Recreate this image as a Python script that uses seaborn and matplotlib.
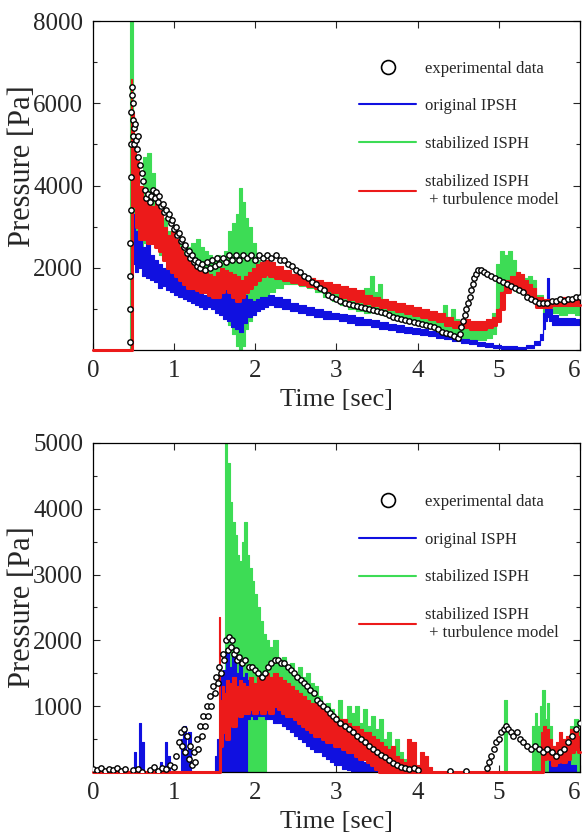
import numpy as np
import matplotlib
matplotlib.use("Agg")
import matplotlib.pyplot as plt
from matplotlib.lines import Line2D
from matplotlib.ticker import MultipleLocator
import seaborn as sns

## ---------- top panel data (Pa) ----------
top_blue_t = [0.0, 0.46, 0.47, 0.50, 0.54, 0.58, 0.63, 0.68, 0.73, 0.78, 0.83, 0.88, 0.93, 0.98, 1.03, 1.08,
              1.13, 1.18, 1.23, 1.28, 1.33, 1.38, 1.43, 1.48, 1.53, 1.58, 1.63, 1.68, 1.73, 1.78, 1.83, 1.88,
              1.93, 1.98, 2.03, 2.08, 2.13, 2.18, 2.28, 2.38, 2.48, 2.58, 2.68, 2.78, 2.88, 2.98, 3.08, 3.18,
              3.28, 3.38, 3.48, 3.58, 3.68, 3.78, 3.88, 3.98, 4.08, 4.18, 4.28, 4.38, 4.48, 4.58, 4.68, 4.78,
              4.88, 4.98, 5.08, 5.18, 5.28, 5.38, 5.48, 5.53, 5.56, 5.58, 5.60, 5.63, 5.68, 5.78, 5.88, 6.0]
top_blue_lo = [0, 0, 0, 2100, 1900, 2000, 1800, 1750, 1700, 1650, 1500, 1550, 1450, 1400, 1350, 1300,
               1250, 1200, 1150, 1100, 1050, 1000, 1050, 1000, 900, 850, 750, 700, 550, 500, 450, 650,
               800, 850, 950, 1000, 1050, 1100, 1050, 1000, 950, 900, 850, 800, 750, 750, 700, 650,
               620, 600, 560, 520, 480, 440, 420, 400, 370, 330, 300, 260, 220, 170, 140, 110,
               80, 50, 30, 20, 20, 40, 120, 250, 500, 700, 800, 700, 600, 600, 620, 620]
top_blue_hi = [0, 0, 3400, 3300, 2900, 2700, 2500, 2600, 2300, 2200, 2100, 2000, 1950, 1900, 1800, 1750,
               1700, 1650, 1550, 1500, 1400, 1350, 1300, 1450, 1600, 1700, 1650, 1500, 1600, 1450, 1300, 1350,
               1250, 1200, 1250, 1300, 1300, 1350, 1300, 1250, 1150, 1100, 1050, 1000, 950, 900, 880, 850,
               800, 760, 720, 680, 640, 600, 560, 540, 500, 460, 420, 380, 330, 280, 240, 200,
               170, 130, 110, 90, 80, 120, 220, 400, 900, 1100, 1750, 1000, 850, 780, 780, 760]

top_green_t = [0.0, 0.46, 0.465, 0.48, 0.51, 0.55, 0.59, 0.64, 0.69, 0.74, 0.79, 0.84, 0.89, 0.94, 0.99, 1.04,
               1.09, 1.14, 1.19, 1.24, 1.29, 1.34, 1.39, 1.44, 1.49, 1.54, 1.59, 1.64, 1.69, 1.74, 1.79, 1.82,
               1.86, 1.89, 1.94, 1.99, 2.04, 2.09, 2.14, 2.19, 2.29, 2.39, 2.49, 2.59, 2.69, 2.79, 2.89, 2.99,
               3.09, 3.19, 3.29, 3.39, 3.44, 3.49, 3.54, 3.59, 3.69, 3.79, 3.89, 3.99, 4.09, 4.19, 4.29, 4.34,
               4.39, 4.44, 4.49, 4.54, 4.59, 4.69, 4.79, 4.89, 4.94, 4.99, 5.04, 5.09, 5.14, 5.19, 5.24, 5.29,
               5.34, 5.39, 5.44, 5.49, 5.59, 5.69, 5.79, 5.89, 6.0]
top_green_lo = [0, 0, 0, 3000, 3200, 2800, 2500, 2600, 2700, 2800, 2500, 2300, 2200, 2000, 1900, 1900,
                1800, 1800, 1700, 1700, 1800, 1700, 1600, 1600, 1500, 1500, 1400, 1200, 600, 400, 100, 0,
                100, 500, 700, 900, 1100, 1200, 1300, 1400, 1500, 1600, 1600, 1550, 1500, 1400, 1300, 1200,
                1100, 1000, 950, 900, 950, 900, 900, 850, 800, 750, 700, 650, 600, 550, 500, 500,
                450, 400, 350, 300, 300, 250, 250, 300, 400, 900, 1200, 1400, 1500, 1500, 1400, 1500,
                1400, 1300, 1200, 1100, 900, 900, 850, 900, 850]
top_green_hi = [0, 0, 8000, 8000, 5000, 4500, 4000, 4700, 4800, 4300, 3600, 3400, 3200, 2900, 2700, 2500,
                2600, 2400, 2500, 2600, 2700, 2500, 2400, 2300, 2200, 2300, 2200, 2400, 2900, 3100, 3300, 3950,
                3600, 3200, 3000, 2600, 2200, 2000, 1900, 1900, 1900, 1900, 1850, 1800, 1750, 1650, 1550, 1450,
                1350, 1300, 1250, 1500, 1800, 1400, 1600, 1200, 1100, 1000, 950, 900, 850, 800, 750, 1100,
                800, 1000, 750, 700, 650, 600, 550, 600, 900, 2100, 2400, 2300, 2400, 2200, 1900, 1800,
                1750, 1800, 1700, 1350, 1100, 1150, 1100, 1150, 1100]

top_red_t = [0.0, 0.46, 0.47, 0.49, 0.52, 0.55, 0.59, 0.64, 0.69, 0.74, 0.79, 0.84, 0.89, 0.94, 0.99, 1.04,
             1.09, 1.14, 1.19, 1.24, 1.29, 1.34, 1.39, 1.44, 1.49, 1.54, 1.59, 1.64, 1.69, 1.74, 1.79, 1.84,
             1.89, 1.94, 1.99, 2.04, 2.09, 2.14, 2.19, 2.29, 2.39, 2.49, 2.59, 2.69, 2.79, 2.89, 2.99, 3.09,
             3.19, 3.29, 3.39, 3.49, 3.59, 3.69, 3.79, 3.89, 3.99, 4.09, 4.19, 4.29, 4.39, 4.49, 4.59, 4.69,
             4.79, 4.89, 4.94, 4.99, 5.04, 5.09, 5.19, 5.24, 5.29, 5.34, 5.39, 5.44, 5.49, 5.59, 5.69, 5.79,
             5.89, 6.0]
top_red_lo = [0, 0, 0, 4000, 3500, 3000, 2700, 2700, 2600, 2600, 2500, 2400, 2200, 2000, 1900, 1800,
              1700, 1600, 1500, 1500, 1450, 1400, 1400, 1350, 1300, 1300, 1400, 1500, 1400, 1300, 1200, 1300,
              1400, 1500, 1600, 1700, 1800, 1850, 1800, 1750, 1700, 1650, 1600, 1550, 1500, 1450, 1400, 1300,
              1250, 1200, 1150, 1100, 1050, 1000, 950, 900, 850, 800, 750, 700, 600, 550, 550, 500,
              500, 550, 600, 700, 1000, 1400, 1500, 1550, 1500, 1400, 1350, 1200, 1050, 1050, 1100, 1100,
              1100, 1100]
top_red_hi = [0, 0, 6600, 5800, 5100, 4600, 4000, 3700, 3600, 3500, 3600, 3400, 3000, 2800, 2900, 2700,
              2500, 2300, 2200, 2100, 2050, 2000, 1900, 1850, 1800, 1900, 2000, 1950, 1900, 1850, 1800, 1700,
              1800, 1900, 2000, 2100, 2150, 2200, 2150, 2050, 1950, 1850, 1800, 1750, 1700, 1650, 1600, 1550,
              1500, 1450, 1350, 1300, 1250, 1200, 1150, 1100, 1050, 1000, 950, 900, 800, 700, 750, 700,
              700, 750, 800, 1000, 1400, 1700, 1800, 1900, 1850, 1700, 1600, 1500, 1300, 1250, 1250, 1300,
              1300, 1300]

top_exp_t = [0.46, 0.46, 0.46, 0.46, 0.465, 0.47, 0.47, 0.475, 0.48, 0.485, 0.49, 0.495, 0.50, 0.505, 0.51,
             0.52, 0.53, 0.54, 0.55, 0.56, 0.58, 0.60, 0.62, 0.64, 0.66, 0.68, 0.70, 0.72, 0.74, 0.76, 0.78,
             0.80, 0.82, 0.84, 0.86, 0.88, 0.90, 0.92, 0.94, 0.96, 0.98, 1.00, 1.02, 1.04, 1.06, 1.08, 1.10,
             1.12, 1.14, 1.16, 1.18, 1.20, 1.22, 1.24, 1.26, 1.28, 1.30, 1.32, 1.35, 1.38, 1.41, 1.44, 1.47,
             1.50, 1.53, 1.56, 1.60, 1.64, 1.68, 1.72, 1.76, 1.80, 1.85, 1.90, 1.95, 2.00, 2.05, 2.10, 2.15,
             2.20, 2.25, 2.30, 2.35, 2.40, 2.45, 2.50, 2.55, 2.60, 2.65, 2.70, 2.75, 2.80, 2.85, 2.90, 2.95,
             3.00, 3.05, 3.10, 3.15, 3.20, 3.25, 3.30, 3.35, 3.40, 3.45, 3.50, 3.55, 3.60, 3.65, 3.70, 3.75,
             3.80, 3.85, 3.90, 3.95, 4.00, 4.05, 4.10, 4.15, 4.20, 4.25, 4.30, 4.35, 4.40, 4.45,
             4.50, 4.52, 4.54, 4.56, 4.58, 4.60, 4.62, 4.64, 4.66, 4.68, 4.70, 4.72, 4.75, 4.78, 4.82, 4.86,
             4.90, 4.95, 5.00, 5.05, 5.10, 5.15, 5.20, 5.25, 5.30, 5.35, 5.40, 5.45, 5.50, 5.55, 5.60, 5.65,
             5.70, 5.75, 5.80, 5.85, 5.90, 5.95, 6.00]
top_exp_p = [200, 1000, 1800, 2600, 3400, 4200, 5000, 5800, 6400, 6200, 5600, 5200, 6000, 5400, 5000,
             5500, 5100, 4900, 5200, 4700, 4500, 4300, 4100, 3900, 3700, 3800, 3600, 3750, 3900, 3700, 3850,
             3600, 3750, 3500, 3550, 3350, 3400, 3200, 3300, 3100, 3150, 2950, 3000, 2800, 2850, 2650, 2700,
             2500, 2550, 2350, 2400, 2250, 2300, 2150, 2200, 2050, 2150, 2000, 2100, 1950, 2150, 2000, 2200,
             2050, 2250, 2100, 2250, 2150, 2300, 2200, 2300, 2200, 2300, 2250, 2300, 2200, 2300, 2250, 2300,
             2250, 2300, 2200, 2200, 2100, 2050, 1950, 1900, 1800, 1750, 1650, 1600, 1500, 1450, 1350, 1300,
             1250, 1200, 1150, 1120, 1100, 1080, 1050, 1030, 1000, 980, 950, 920, 900, 850, 800, 780,
             750, 730, 700, 680, 650, 630, 600, 580, 550, 500, 450, 420, 400, 350,
             300, 400, 550, 700, 850, 1000, 1150, 1300, 1450, 1600, 1750, 1850, 1950, 1950, 1900, 1850,
             1800, 1750, 1700, 1650, 1600, 1550, 1500, 1450, 1400, 1300, 1250, 1200, 1150, 1150, 1150, 1200,
             1200, 1250, 1200, 1250, 1250, 1300, 1300]

## ---------- bottom panel data (Pa) ----------
bot_blue_t = [0.0, 0.50, 0.52, 0.55, 0.58, 0.61, 0.64, 0.82, 0.84, 0.87, 0.90, 0.93, 0.96, 1.08, 1.10, 1.13,
              1.16, 1.19, 1.22, 1.50, 1.52, 1.55, 1.58, 1.62, 1.66, 1.70, 1.74, 1.78, 1.82, 1.86, 1.89, 1.91,
              1.95, 2.00, 2.05, 2.10, 2.15, 2.20, 2.25, 2.30, 2.35, 2.40, 2.45, 2.50, 2.55, 2.60, 2.65, 2.70,
              2.75, 2.80, 2.85, 2.90, 2.95, 3.00, 3.05, 3.10, 3.15, 3.20, 3.25, 3.30, 3.35, 3.40, 3.45, 3.50,
              3.55, 5.60, 5.65, 5.70, 5.75, 5.80, 5.85, 5.90, 6.00]
bot_blue_lo = [0, 0, 0, 0, 0, 0, 0, 0, 0, 0, 0, 0, 0, 0, 0, 0,
               0, 0, 0, 0, 0, 0, 0, 0, 0, 0, 0, 0, 0, 0, 0, 800,
               850, 800, 850, 850, 800, 800, 750, 750, 700, 650, 600, 550, 500, 450, 400, 350,
               300, 300, 250, 200, 150, 100, 100, 50, 30, 0, 0, 0, 0, 0, 0, 0,
               0, 0, 0, 0, 0, 0, 0, 0, 0]
bot_blue_hi = [0, 0, 300, 0, 750, 450, 0, 0, 150, 0, 450, 250, 0, 0, 500, 700,
               300, 600, 0, 0, 250, 500, 1500, 1550, 1850, 1600, 1800, 1500, 1650, 1450, 1500, 1400,
               1300, 1250, 1300, 1200, 1150, 1200, 1150, 1100, 1050, 1050, 1000, 1000, 950, 900, 850, 800,
               750, 700, 650, 600, 550, 500, 450, 400, 350, 300, 250, 200, 150, 120, 80, 50,
               0, 0, 300, 100, 200, 150, 250, 100, 0]

bot_green_t = [0.0, 1.62, 1.64, 1.67, 1.70, 1.73, 1.76, 1.79, 1.82, 1.85, 1.88, 1.91, 1.94, 1.97, 2.00, 2.04,
               2.08, 2.12, 2.15, 2.20, 2.25, 2.30, 2.35, 2.40, 2.45, 2.50, 2.55, 2.60, 2.65, 2.70, 2.75, 2.80,
               2.85, 2.90, 2.95, 3.00, 3.05, 3.10, 3.15, 3.20, 3.25, 3.30, 3.35, 3.40, 3.45, 3.50, 3.55, 3.60,
               3.65, 3.70, 3.75, 3.80, 3.85, 3.90, 4.00, 5.05, 5.08, 5.12, 5.40, 5.43, 5.46, 5.49, 5.52, 5.55,
               5.58, 5.61, 5.64, 5.68, 5.75, 5.80, 5.85, 5.90, 5.95, 6.00]
bot_green_lo = [0, 0, 1500, 1500, 1400, 1300, 1200, 1000, 900, 800, 700, 0, 0, 0, 0, 0,
                0, 0, 1000, 1000, 1100, 1100, 1100, 1000, 1000, 900, 900, 800, 800, 700, 700, 600,
                550, 500, 450, 400, 400, 350, 300, 300, 250, 250, 200, 200, 150, 150, 100, 80,
                50, 30, 20, 10, 0, 0, 0, 0, 0, 0, 0, 0, 0, 0, 0, 0,
                0, 0, 0, 0, 0, 0, 0, 0, 0, 0]
bot_green_hi = [0, 0, 5000, 4700, 4100, 3800, 3600, 3300, 3200, 3500, 3800, 3300, 3100, 2900, 2700, 2500,
                2300, 2100, 2000, 1900, 2000, 1700, 1750, 1600, 1650, 1500, 1600, 1450, 1500, 1350, 1300, 1150,
                1000, 1050, 950, 850, 1100, 800, 1000, 900, 1000, 750, 950, 700, 850, 650, 800, 500,
                600, 400, 500, 300, 200, 100, 0, 0, 1100, 0, 0, 700, 900, 700, 1000, 1250,
                800, 1050, 700, 400, 300, 500, 400, 700, 800, 600]

bot_red_t = [0.0, 1.54, 1.56, 1.58, 1.60, 1.63, 1.66, 1.70, 1.74, 1.78, 1.82, 1.86, 1.90, 1.95, 2.00, 2.05,
             2.10, 2.15, 2.20, 2.25, 2.30, 2.35, 2.40, 2.45, 2.50, 2.55, 2.60, 2.65, 2.70, 2.75, 2.80, 2.85,
             2.90, 2.95, 3.00, 3.05, 3.10, 3.15, 3.20, 3.25, 3.30, 3.35, 3.40, 3.45, 3.50, 3.55, 3.60, 3.65,
             3.70, 3.75, 3.80, 3.85, 3.90, 3.95, 4.00, 4.05, 4.10, 4.15, 4.20, 5.50, 5.53, 5.56, 5.60, 5.64,
             5.68, 5.72, 5.76, 5.80, 5.85, 5.90, 5.95, 6.00]
bot_red_lo = [0, 0, 0, 400, 600, 700, 500, 800, 700, 900, 850, 900, 900, 950, 900, 950,
              900, 950, 900, 1000, 950, 900, 850, 850, 800, 750, 700, 650, 600, 550, 550, 500,
              450, 450, 400, 400, 350, 300, 300, 250, 200, 200, 150, 100, 50, 0, 0, 0,
              0, 0, 0, 0, 0, 0, 0, 0, 0, 0, 0, 0, 0, 200, 300, 200,
              100, 150, 200, 150, 200, 300, 350, 300]
bot_red_hi = [0, 0, 2350, 1100, 1300, 1200, 1400, 1350, 1450, 1300, 1400, 1350, 1300, 1450, 1350, 1450,
              1400, 1500, 1450, 1500, 1450, 1400, 1350, 1300, 1250, 1200, 1150, 1100, 1050, 1050, 1000, 950,
              900, 850, 850, 800, 800, 750, 700, 700, 650, 600, 600, 550, 500, 450, 400, 350,
              400, 250, 200, 150, 500, 450, 100, 300, 250, 80, 0, 0, 600, 700, 650, 500,
              400, 450, 600, 500, 550, 650, 600, 550]

bot_exp_t = [0.00, 0.05, 0.10, 0.15, 0.20, 0.25, 0.30, 0.35, 0.40, 0.50, 0.55, 0.60, 0.70, 0.75, 0.80, 0.85,
             0.90, 0.95, 1.00, 1.03, 1.06, 1.08, 1.10, 1.12, 1.14, 1.16, 1.18, 1.20, 1.22, 1.24, 1.26, 1.28,
             1.30, 1.32, 1.34, 1.36, 1.38, 1.40, 1.42, 1.44, 1.46, 1.48, 1.50, 1.52, 1.54, 1.56, 1.58, 1.60,
             1.62, 1.64, 1.66, 1.68, 1.70, 1.72, 1.74, 1.76, 1.78, 1.80, 1.84, 1.88, 1.92, 1.96, 2.00, 2.04,
             2.08, 2.12, 2.16, 2.20, 2.24, 2.28, 2.32, 2.36, 2.40, 2.44, 2.48, 2.52, 2.56, 2.60, 2.64, 2.68,
             2.72, 2.76, 2.80, 2.84, 2.88, 2.92, 2.96, 3.00, 3.05, 3.10, 3.15, 3.20, 3.25, 3.30, 3.35, 3.40,
             3.45, 3.50, 3.55, 3.60, 3.65, 3.70, 3.75, 3.80, 3.85, 3.90, 3.95, 4.00, 4.40, 4.60, 4.85, 4.88,
             4.91, 4.94, 4.97, 5.00, 5.03, 5.06, 5.09, 5.12, 5.15, 5.18, 5.22, 5.26, 5.30, 5.35, 5.40, 5.45,
             5.50, 5.55, 5.60, 5.65, 5.70, 5.75, 5.80, 5.85, 5.90, 5.95, 6.00]
bot_exp_p = [50, 30, 60, 20, 50, 30, 60, 20, 40, 30, 50, 0, 30, 80, 20, 60,
             40, 100, 80, 250, 450, 600, 400, 650, 300, 550, 200, 400, 100, 300, 150, 500,
             350, 700, 550, 850, 700, 1000, 850, 1150, 1000, 1300, 1200, 1450, 1350, 1600, 1500, 1800,
             1700, 2000, 1850, 2050, 1900, 2000, 1800, 1850, 1700, 1750, 1650, 1700, 1600, 1600, 1550, 1500,
             1450, 1500, 1600, 1650, 1700, 1700, 1650, 1650, 1600, 1550, 1500, 1450, 1400, 1350, 1300, 1250,
             1200, 1100, 1050, 1000, 950, 900, 850, 800, 750, 700, 650, 600, 550, 500, 450, 400,
             350, 300, 260, 220, 180, 140, 100, 80, 60, 40, 60, 30, 20, 20, 60, 150,
             250, 350, 450, 500, 600, 650, 700, 650, 600, 550, 600, 500, 450, 400, 350, 400,
             350, 300, 350, 300, 250, 300, 350, 450, 550, 650, 750]

BLUE = "#1010e0"
GREEN = "#3ddc55"
RED = "#ec1a1a"

sns.set_theme(style="ticks")
plt.rcParams["font.family"] = ["Liberation Serif", "DejaVu Serif"]

fig = plt.figure(figsize=(5.84, 8.38), dpi=100)
ax_top = fig.add_axes([0.159, 0.5823, 0.834, 0.3926])
ax_bot = fig.add_axes([0.159, 0.0788, 0.834, 0.3926])


def band(ax, t, lo, hi, color):
    ax.fill_between(t, lo, hi, step="mid", color=color, linewidth=0.8, edgecolor=color)


def draw_panel(ax, blue, green, red, exp_t, exp_p, ymax, major, minor, label_y):
    band(ax, *green, GREEN)
    band(ax, *blue, BLUE)
    band(ax, *red, RED)
    # red trace sitting on the zero line
    ax.plot(red[0], red[1], color=RED, lw=2.2, drawstyle="steps-mid", clip_on=False, zorder=3)
    sns.scatterplot(x=exp_t, y=exp_p, ax=ax, marker="o", s=15, color="white",
                    edgecolor="black", linewidth=1.0, zorder=5, legend=False)

    ax.set_xlim(0, 6)
    ax.set_ylim(0, ymax)
    ax.set_xticks(range(0, 7))
    ax.set_yticks(np.arange(major, ymax + 1, major))
    ax.yaxis.set_minor_locator(MultipleLocator(minor))
    ax.tick_params(which="both", direction="in", top=True, right=True, width=0.8)
    ax.tick_params(which="major", length=5, labelsize=18, pad=7)
    ax.tick_params(which="minor", length=3)
    ax.get_xticklabels()[-1].set_horizontalalignment("right")
    for s in ax.spines.values():
        s.set_linewidth(0.9)
        s.set_color("black")
    ax.set_xlabel("Time [sec]", fontsize=19, labelpad=5)
    ax.set_ylabel("Pressure [Pa]", fontsize=22)
    ax.yaxis.set_label_coords(-0.115, label_y)

    handles = [
        Line2D([], [], ls="none", marker="o", markersize=10, mfc="white", mec="black", mew=1.2),
        Line2D([], [], color=BLUE, lw=1.5),
        Line2D([], [], color=GREEN, lw=1.5),
        Line2D([], [], color=RED, lw=1.5),
    ]
    labels = ["experimental data", "original IPSH", "stabilized ISPH",
              "stabilized ISPH\n + turbulence model"]
    return handles, labels


leg_kw = dict(loc="upper left", frameon=False, fontsize=12, handlelength=3.4,
              handletextpad=0.55, labelspacing=1.3, borderpad=0)

h, l = draw_panel(ax_top, (top_blue_t, top_blue_lo, top_blue_hi),
                  (top_green_t, top_green_lo, top_green_hi),
                  (top_red_t, top_red_lo, top_red_hi),
                  top_exp_t, top_exp_p, 8000, 2000, 1000, 0.56)
ax_top.legend(h, l, bbox_to_anchor=(0.53, 0.905), **leg_kw)

h, l = draw_panel(ax_bot, (bot_blue_t, bot_blue_lo, bot_blue_hi),
                  (bot_green_t, bot_green_lo, bot_green_hi),
                  (bot_red_t, bot_red_lo, bot_red_hi),
                  bot_exp_t, bot_exp_p, 5000, 1000, 500, 0.5)
l[1] = "original ISPH"
ax_bot.legend(h, l, bbox_to_anchor=(0.53, 0.87), **leg_kw)

fig.savefig("out.png", dpi=100)
